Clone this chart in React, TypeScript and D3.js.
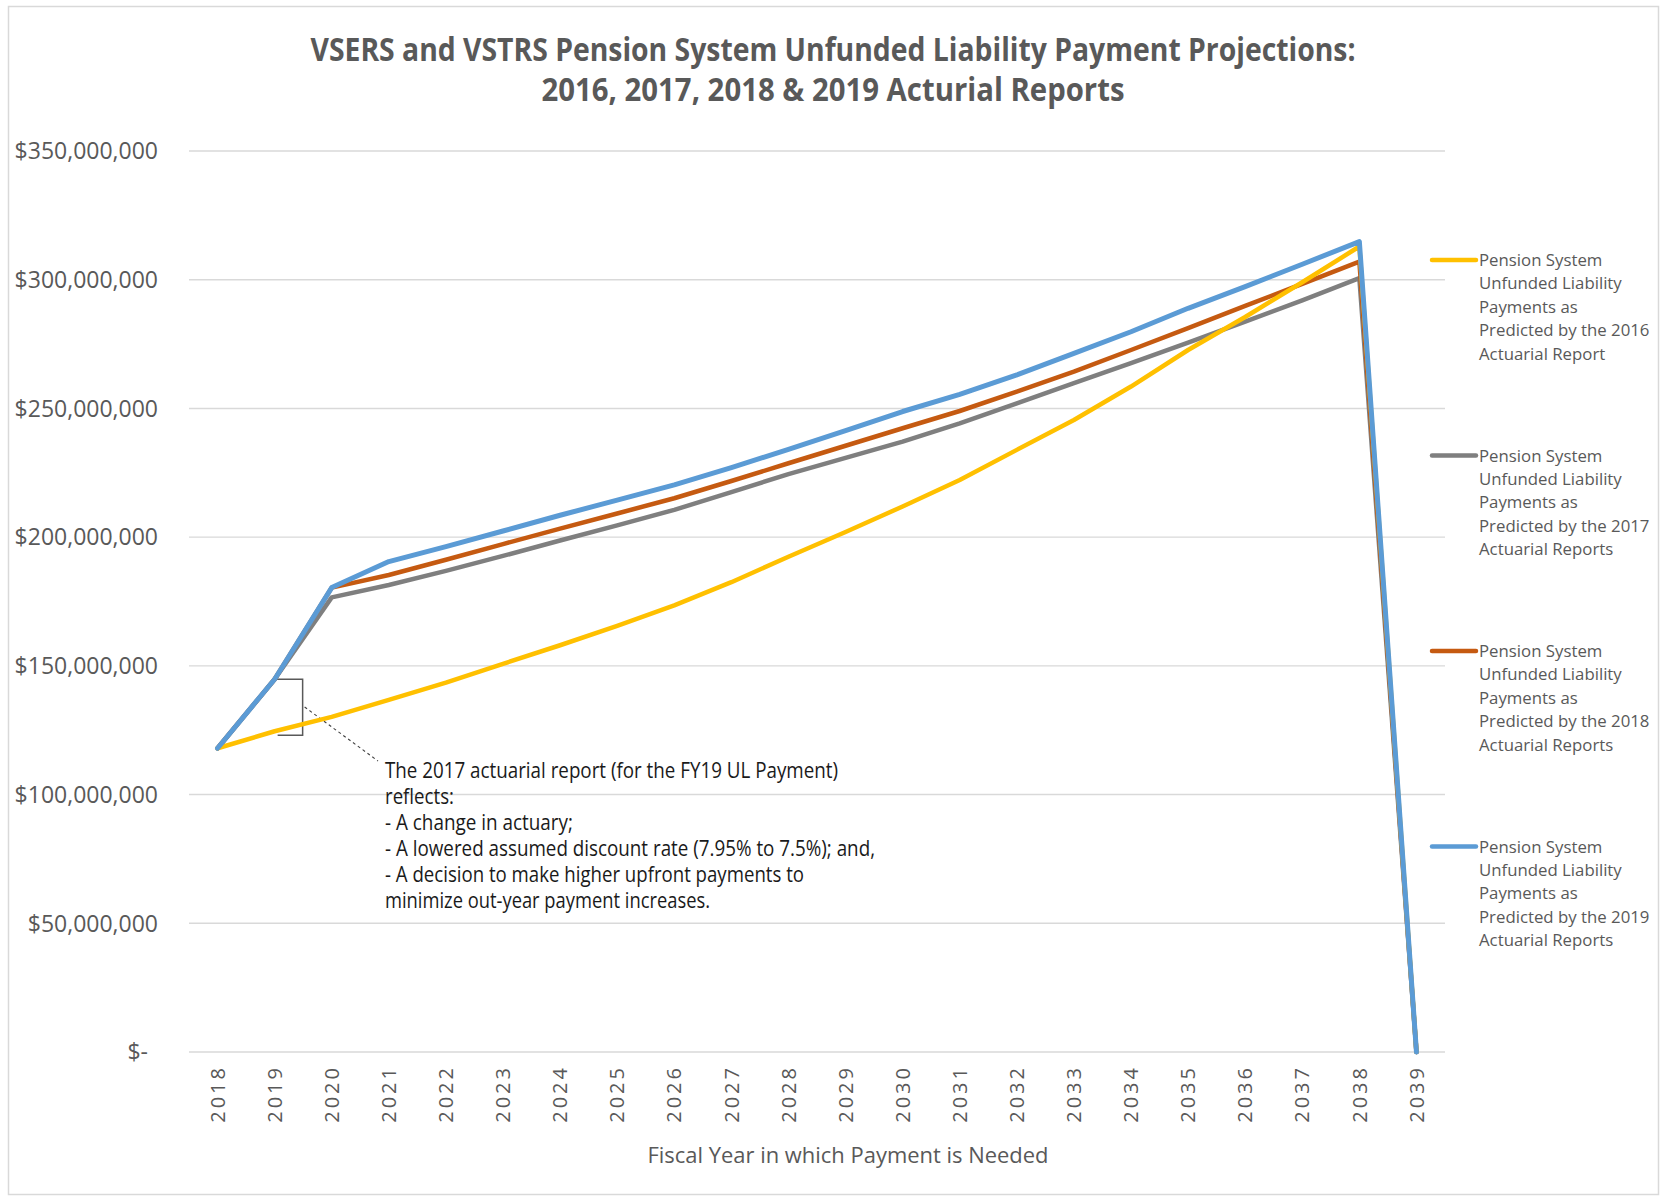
import React from 'react';
import * as d3 from 'd3';

const years = ['2018','2019','2020','2021','2022','2023','2024','2025','2026','2027','2028','2029','2030','2031','2032','2033','2034','2035','2036','2037','2038','2039'];

// values in millions of dollars
const report2016 = [118.0,124.6,130.2,136.8,143.5,150.8,158.0,165.5,173.5,182.5,192.4,202.0,211.9,222.2,233.9,245.5,258.5,272.7,285.5,299.0,312.9,0];
const report2017 = [118.0,144.8,176.6,181.4,186.9,192.7,198.7,204.6,210.6,217.5,224.5,230.8,237.1,244.2,252.0,259.8,267.6,275.6,283.7,292.0,300.6,0];
const report2018 = [118.0,144.8,180.4,185.3,191.2,197.3,203.3,209.2,215.1,221.8,228.7,235.5,242.3,249.0,256.5,264.3,272.7,281.2,289.8,298.4,307.0,0];
const report2019 = [118.0,144.8,180.4,190.5,196.3,202.4,208.5,214.4,220.3,227.0,234.1,241.4,248.8,255.5,263.0,271.4,279.8,288.9,297.3,306.0,314.8,0];

const yTicks = [0,50,100,150,200,250,300,350];

const seriesNames = ['2016 Actuarial Report','2017 Actuarial Reports','2018 Actuarial Reports','2019 Actuarial Reports'];
const legendLines = [
  ['Pension System','Unfunded Liability','Payments as','Predicted by the 2016','Actuarial Report'],
  ['Pension System','Unfunded Liability','Payments as','Predicted by the 2017','Actuarial Reports'],
  ['Pension System','Unfunded Liability','Payments as','Predicted by the 2018','Actuarial Reports'],
  ['Pension System','Unfunded Liability','Payments as','Predicted by the 2019','Actuarial Reports'],
];
const colors = ['#FFC000','#7F7F7F','#C55A11','#5B9BD5'];

const titleLines = ['VSERS and VSTRS Pension System Unfunded Liability Payment Projections:','2016, 2017, 2018 & 2019 Acturial Reports'];
const xAxisTitle = 'Fiscal Year in which Payment is Needed';
const noteLines = [
  'The 2017 actuarial report (for the FY19 UL Payment)',
  'reflects:',
  '- A change in actuary;',
  '- A lowered assumed discount rate (7.95% to 7.5%); and,',
  '- A decision to make higher upfront payments to',
  'minimize out-year payment increases.',
];
const noteWidths = [453, 69, 188, 490, 419, 325];

export default function App() {
  const W = 1663, H = 1199;
  const left = 189, right = 1445, top = 151, bottom = 1052;
  const x = d3.scaleBand<string>().domain(years).range([left, right]);
  const y = d3.scaleLinear().domain([0, 350]).range([bottom, top]);
  const cx = (yr: string) => (x(yr) as number) + x.bandwidth() / 2;
  const series = [report2016, report2017, report2018, report2019];
  const drawOrder = [1, 2, 0, 3];
  const line = d3.line<number>().x((_, i) => cx(years[i])).y(d => y(d));
  const fmt = (v: number) => (v === 0 ? '$-' : d3.format('$,')(v * 1e6));
  const grey = '#595959';
  const font = "'Open Sans', sans-serif";

  // annotation bracket
  const bx0 = cx('2019') + 1;
  const bx1 = cx('2019') + 28;
  const by0 = y(report2019[1]);
  const by1 = y(report2016[1]) + 4;

  return (
    <svg width={W} height={H} style={{ position: 'absolute', left: 0, top: 0, background: '#fff' }} fontFamily={font}>
      <rect x={0} y={0} width={W} height={H} fill="#fff" />
      <rect x={8.5} y={6.5} width={1650} height={1188} fill="#fff" stroke="#d9d9d9" strokeWidth={1.5} />
      {titleLines.map((t, i) => (
        <text key={t} x={833} y={i === 0 ? 61 : 101} textAnchor="middle" fontSize={32} fontWeight="bold" fill={grey}
          textLength={i === 0 ? 1045 : 583} lengthAdjust="spacingAndGlyphs">{t}</text>
      ))}
      {yTicks.map(t => (
        <g key={t}>
          <line x1={left} x2={right} y1={y(t)} y2={y(t)} stroke="#d9d9d9" strokeWidth={1.4} />
          <text x={t === 0 ? 148 : 158} y={y(t)} dy="0.36em" textAnchor="end" fontSize={23} fill={grey}>{fmt(t)}</text>
        </g>
      ))}
      {years.map(yr => (
        <text key={yr} transform={`translate(${cx(yr)},1065) rotate(-90)`} dy="0.36em" textAnchor="end" fontSize={20}
          letterSpacing={3} fill={grey}>{yr}</text>
      ))}
      <text x={848} y={1163} textAnchor="middle" fontSize={22} fill={grey} textLength={401} lengthAdjust="spacingAndGlyphs">{xAxisTitle}</text>

      {/* annotation */}
      <path d={`M${bx0},${by0}H${bx1}V${by1}H${bx0 + 2}`} fill="none" stroke={grey} strokeWidth={1.5} />
      <line x1={bx1 + 2} y1={707} x2={378} y2={761} stroke="#404040" strokeWidth={1.1} strokeDasharray="3,3" />

      {drawOrder.map(i => (
        <path key={seriesNames[i]} d={line(series[i]) || ''} fill="none" stroke={colors[i]} strokeWidth={i === 3 ? 5 : 4.5}
          strokeLinejoin="round" strokeLinecap="round" />
      ))}

      {noteLines.map((t, i) => (
        <text key={i} x={385} y={778 + i * 25.9} fontSize={21} fill="#1a1a1a" textLength={noteWidths[i]} lengthAdjust="spacingAndGlyphs">{t}</text>
      ))}

      {legendLines.map((lines, i) => {
        const ly = 260 + i * 195.5;
        return (
          <g key={i}>
            <line x1={1432} x2={1476} y1={ly} y2={ly} stroke={colors[i]} strokeWidth={4.5} strokeLinecap="round" />
            {lines.map((t, j) => (
              <text key={j} x={1479} y={ly + j * 23.4} dy="0.36em" fontSize={16.8} fill={grey}>{t}</text>
            ))}
          </g>
        );
      })}
    </svg>
  );
}
